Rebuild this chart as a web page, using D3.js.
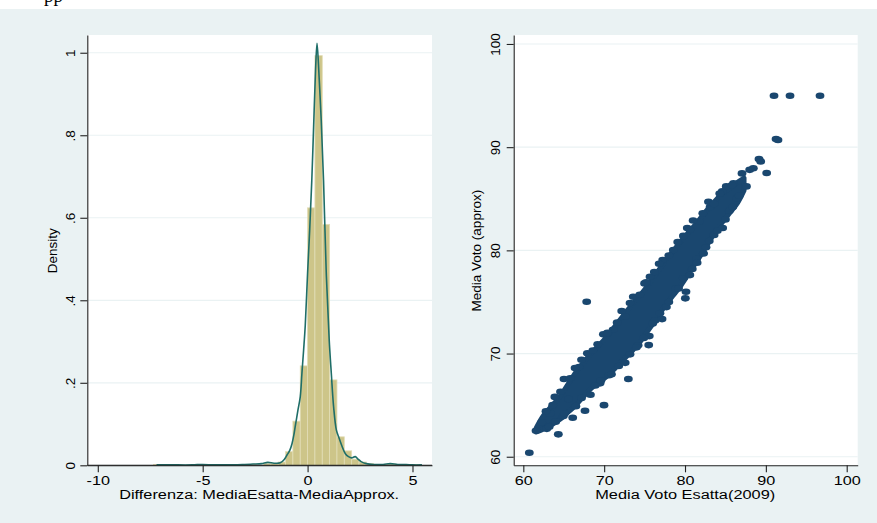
<!DOCTYPE html>
<html>
<head>
<meta charset="utf-8">
<script src="https://cdn.jsdelivr.net/npm/d3@7"></script>
<style>
  html, body { margin: 0; padding: 0; background: #ffffff; }
  svg { display: block; }
  text { font-family: "Liberation Sans", Arial, sans-serif; fill: #000; }
</style>
</head>
<body>
<svg id="chart" width="877" height="523"></svg>
<script>
// ---- Histogram of the difference (bin start, density), bin width 0.35
const binWidth = 0.35;
const histStart = [-7.35, -4.2, -2.8, -2.1, -1.75, -1.4, -1.05, -0.7, -0.35, 0, 0.35, 0.7, 1.05, 1.4, 1.75, 2.1, 2.45, 2.8, 3.15, 3.5, 3.85, 4.55, 4.9];
const histDensity = [0.002, 0.002, 0.002, 0.004, 0.004, 0.008, 0.033, 0.107, 0.241, 0.624, 0.993, 0.584, 0.207, 0.069, 0.035, 0.015, 0.008, 0.004, 0.002, 0.002, 0.003, 0.002, 0.002];

// ---- Kernel density estimate of the difference
const kdeX = [-7.2, -6.5, -5.5, -5.0, -4.5, -4.0, -3.5, -3.0, -2.6, -2.2, -1.9, -1.6, -1.3, -1.1, -0.98, -0.85, -0.74, -0.65, -0.59, -0.52, -0.46, -0.35, -0.27, -0.19, -0.11, 0.0, 0.1, 0.2, 0.3, 0.38, 0.45, 0.52, 0.58, 0.65, 0.76, 0.89, 1.03, 1.13, 1.24, 1.37, 1.5, 1.65, 1.8, 1.95, 2.1, 2.27, 2.4, 2.55, 2.8, 3.2, 3.6, 3.94, 4.3, 4.7, 5.0, 5.45];
const kdeY = [0.001, 0.001, 0.001, 0.002, 0.001, 0.001, 0.001, 0.002, 0.003, 0.004, 0.007, 0.005, 0.006, 0.015, 0.025, 0.036, 0.053, 0.075, 0.094, 0.115, 0.134, 0.166, 0.223, 0.279, 0.34, 0.466, 0.57, 0.69, 0.84, 0.96, 1.023, 0.97, 0.91, 0.837, 0.691, 0.466, 0.304, 0.223, 0.142, 0.086, 0.066, 0.045, 0.028, 0.021, 0.018, 0.021, 0.015, 0.009, 0.004, 0.002, 0.002, 0.004, 0.002, 0.002, 0.001, 0.001];

// ---- Scatter: dense overplotted core (x, lower and upper edge of the cloud)
const coreX  = [61.6, 62.5, 63.5, 64.5, 65.5, 66.5, 67.5, 68.5, 69.5, 70.5, 71.5, 72.5, 73.5, 74.5, 75.5, 76.5, 77.5, 78.5, 79.5, 80.5, 81.5, 82.5, 83.5, 84.5, 85.5, 86.5, 87.3];
const coreHi = [62.8, 64.0, 64.9, 65.8, 67.0, 68.2, 69.2, 70.1, 70.9, 71.8, 72.8, 73.8, 74.8, 75.7, 76.7, 77.8, 78.9, 79.9, 80.9, 81.8, 82.7, 83.7, 84.6, 85.4, 86.0, 86.6, 87.0];
const coreLo = [62.4, 62.7, 63.1, 63.6, 64.3, 65.0, 65.9, 66.7, 67.3, 67.9, 68.7, 69.5, 70.3, 71.2, 72.3, 73.4, 74.6, 75.6, 76.6, 77.8, 79.0, 80.2, 81.5, 82.6, 83.6, 84.6, 85.8];

// ---- Scatter: individual schools around and outside the core
const ptX = [60.74, 61.57, 62.27, 62.9, 63.3, 63.63, 64.33, 64.95, 65.03, 65.6, 66.11, 66.9, 67.63, 67.84, 67.92, 68.3, 69.49, 69.98, 69.9, 70.6, 71.1, 72.17, 72.99, 73.2, 73.6, 74.2, 75.0, 75.51, 75.58, 75.67, 76.3, 77.16, 77.24, 77.7, 78.55, 78.85, 79.79, 80.04, 80.12, 80.28, 80.9, 81.44, 81.77, 82.6, 83.1, 83.6, 84.61, 84.66, 85.48, 86.0, 86.39, 87.05, 87.6, 88.0, 88.45, 89.15, 89.36, 90.1, 91.26, 91.5, 91.01, 92.99, 96.7,
  // along the upper edge of the cloud
  62.8, 63.9, 64.6, 65.8, 66.4, 67.2, 68.6, 69.2, 70.4, 71.6, 72.6, 73.2, 74.4, 75.2, 76.2, 76.8, 78.0, 79.1, 79.8, 80.6, 81.0, 82.2, 82.9, 83.6, 84.3, 85.1, 85.8,
  // along the lower edge of the cloud
  63.2, 64.0, 65.1, 66.5, 67.2, 68.9, 69.6, 70.9, 71.8, 72.6, 74.0, 74.9, 76.0, 76.9, 78.0, 79.2, 80.6, 81.5, 82.3, 83.0, 84.0, 85.0, 85.9, 86.7];
const ptY = [60.39, 62.52, 63.33, 62.7, 64.2, 65.0, 62.17, 63.94, 67.53, 65.6, 63.78, 68.7, 64.46, 75.02, 70.02, 66.0, 67.11, 65.0, 71.86, 67.9, 72.3, 74.12, 67.53, 69.92, 75.5, 70.8, 76.8, 70.82, 71.69, 77.44, 73.2, 73.34, 79.06, 74.5, 80.03, 76.32, 77.29, 75.35, 75.99, 82.16, 78.2, 79.19, 82.77, 80.3, 84.2, 81.5, 85.72, 82.16, 83.84, 86.5, 85.04, 87.46, 86.2, 87.8, 87.95, 88.85, 88.62, 87.49, 90.78, 90.69, 94.98, 94.98, 94.98,
  64.4, 65.8, 66.3, 67.6, 68.6, 69.4, 70.3, 70.9, 72.0, 73.0, 73.6, 74.9, 75.7, 76.9, 77.9, 78.7, 79.5, 80.8, 81.4, 82.0, 82.9, 83.6, 84.7, 84.5, 85.5, 86.2, 86.3,
  62.9, 63.4, 64.2, 64.9, 65.7, 66.9, 67.4, 68.0, 68.8, 69.1, 70.6, 71.5, 72.9, 73.9, 75.0, 76.3, 77.6, 78.8, 79.7, 80.9, 81.9, 83.0, 84.2, 85.3];

// ---- Tick values
const densTicks = [0, 0.2, 0.4, 0.6, 0.8, 1];
const densTickLabels = ["0", ".2", ".4", ".6", ".8", "1"];
const diffTicks = [-10, -5, 0, 5];
const votoTicks = [60, 70, 80, 90, 100];

const colors = {
  background: "#eaf2f3",
  grid: "#eaf2f3",
  bar: "#cdc589",
  barEdge: "#e2ddb6",
  kde: "#1f6e68",
  dot: "#1a476f",
  axis: "#222222"
};

const svg = d3.select("#chart");
const X_STRETCH = 1.2;

// white strip at the top with the tail of a line of text above the figure
svg.append("rect").attr("x", 0).attr("y", 0).attr("width", 877).attr("height", 9).attr("fill", "#ffffff");
svg.append("text").attr("x", 44).attr("y", 2)
  .style("font-family", "'Liberation Serif', 'Times New Roman', serif")
  .style("font-size", "19px").text("pp");

// graph region
svg.append("rect").attr("x", 0).attr("y", 9).attr("width", 877).attr("height", 514).attr("fill", colors.background);

function panel(box) {
  const g = svg.append("g");
  g.append("rect").attr("x", box.x0).attr("y", box.y0)
    .attr("width", box.x1 - box.x0).attr("height", box.y1 - box.y0).attr("fill", "#ffffff");
  return g;
}

function styleAxis(sel) {
  sel.selectAll(".domain").attr("stroke", colors.axis).attr("stroke-width", 1.1);
  sel.selectAll(".tick line").attr("stroke", colors.axis).attr("stroke-width", 1.1);
  sel.selectAll("text").style("font-family", "'Liberation Sans', Arial, sans-serif")
    .style("font-size", "13.5px").attr("fill", "#000");
}

function drawAxes(g, box, x, y, xTicks, yTicks, yFmt, yLabelOffset, xTitle, yTitle, xTitleLen, yTitleX) {
  // horizontal grid lines
  g.append("g").selectAll("line").data(yTicks).join("line")
    .attr("x1", box.x0).attr("x2", box.x1)
    .attr("y1", d => y(d)).attr("y2", d => y(d))
    .attr("stroke", colors.grid).attr("stroke-width", 1.2);

  const ax = g.append("g").attr("transform", `translate(0,${box.y1})`)
    .call(d3.axisBottom(x).tickValues(xTicks).tickFormat(d => String(d)).tickSize(7).tickSizeOuter(0));
  styleAxis(ax);
  ax.selectAll(".tick text").attr("y", 20).attr("dy", null)
    .attr("transform", `scale(${X_STRETCH},1)`);

  const ay = g.append("g").attr("transform", `translate(${box.x0},0)`)
    .call(d3.axisLeft(y).tickValues(yTicks).tickFormat(yFmt).tickSize(7).tickSizeOuter(0));
  styleAxis(ay);
  ay.selectAll(".tick text").attr("x", null).attr("dy", null)
    .attr("text-anchor", "middle")
    .attr("transform", `translate(${yLabelOffset},0) rotate(-90)`);

  g.append("text")
    .attr("transform", `translate(${(box.x0 + box.x1) / 2 - 0.5},499) scale(${X_STRETCH},1)`)
    .attr("text-anchor", "middle").style("font-size", "13.5px")
    .attr("textLength", xTitleLen / X_STRETCH).attr("lengthAdjust", "spacingAndGlyphs")
    .text(xTitle);

  g.append("text")
    .attr("transform", `translate(${yTitleX},${(box.y0 + box.y1) / 2 + 0.5}) rotate(-90)`)
    .attr("text-anchor", "middle").style("font-size", "13.5px")
    .text(yTitle);
}

// ================= Left panel: histogram + kernel density =================
const boxL = { x0: 87.3, x1: 432, y0: 35, y1: 465.3 };
const gL = panel(boxL);
const xL = d3.scaleLinear().domain([-10.5, 5.93]).range([boxL.x0, boxL.x1]);
const yL = d3.scaleLinear().domain([0, 1.043]).range([boxL.y1, boxL.y0]);

// grid first so the bars sit above it
drawAxes(gL, boxL, xL, yL, diffTicks, densTicks,
  d => densTickLabels[densTicks.indexOf(d)], -12.5,
  "Differenza: MediaEsatta-MediaApprox.", "Density", 280, 56.5);

const bars = histStart.map((s, i) => ({ s, d: histDensity[i] }));
gL.insert("g", "g:nth-of-type(2)").selectAll("rect").data(bars).join("rect")
  .attr("x", d => xL(d.s))
  .attr("width", d => xL(d.s + binWidth) - xL(d.s))
  .attr("y", d => yL(d.d))
  .attr("height", d => yL(0) - yL(d.d))
  .attr("fill", colors.bar)
  .attr("stroke", colors.barEdge).attr("stroke-width", 0.8);

const kde = kdeX.map((x, i) => [x, kdeY[i]]);
gL.append("path").datum(kde)
  .attr("d", d3.line().x(d => xL(d[0])).y(d => yL(d[1])).curve(d3.curveCatmullRom.alpha(0.5)))
  .attr("fill", "none").attr("stroke", colors.kde).attr("stroke-width", 1.6);

// redraw the axis line on top of the marks
gL.append("line").attr("x1", boxL.x0).attr("x2", boxL.x1).attr("y1", boxL.y1).attr("y2", boxL.y1)
  .attr("stroke", colors.axis).attr("stroke-width", 1.1);

// ================= Right panel: scatter =================
const boxR = { x0: 513.7, x1: 857.7, y0: 35, y1: 465.3 };
const gR = panel(boxR);
const xR = d3.scaleLinear().domain([58.81, 101.36]).range([boxR.x0, boxR.x1]);
const yR = d3.scaleLinear().domain([59.17, 100.87]).range([boxR.y1, boxR.y0]);

drawAxes(gR, boxR, xR, yR, votoTicks, votoTicks, d => String(d), -13.4,
  "Media Voto Esatta(2009)", "Media Voto (approx)", 180, 481);

const core = coreX.map((x, i) => ({ x, lo: coreLo[i], hi: coreHi[i] }));
gR.append("path").datum(core)
  .attr("d", d3.area().x(d => xR(d.x)).y0(d => yR(d.lo)).y1(d => yR(d.hi)).curve(d3.curveCatmullRom))
  .attr("fill", colors.dot).attr("stroke", colors.dot).attr("stroke-width", 5)
  .attr("stroke-linejoin", "round");

const pts = ptX.map((x, i) => [x, ptY[i]]);
gR.append("g").selectAll("ellipse").data(pts).join("ellipse")
  .attr("cx", d => xR(d[0])).attr("cy", d => yR(d[1]))
  .attr("rx", 4.4).attr("ry", 3.3)
  .attr("fill", colors.dot);
</script>
</body>
</html>
